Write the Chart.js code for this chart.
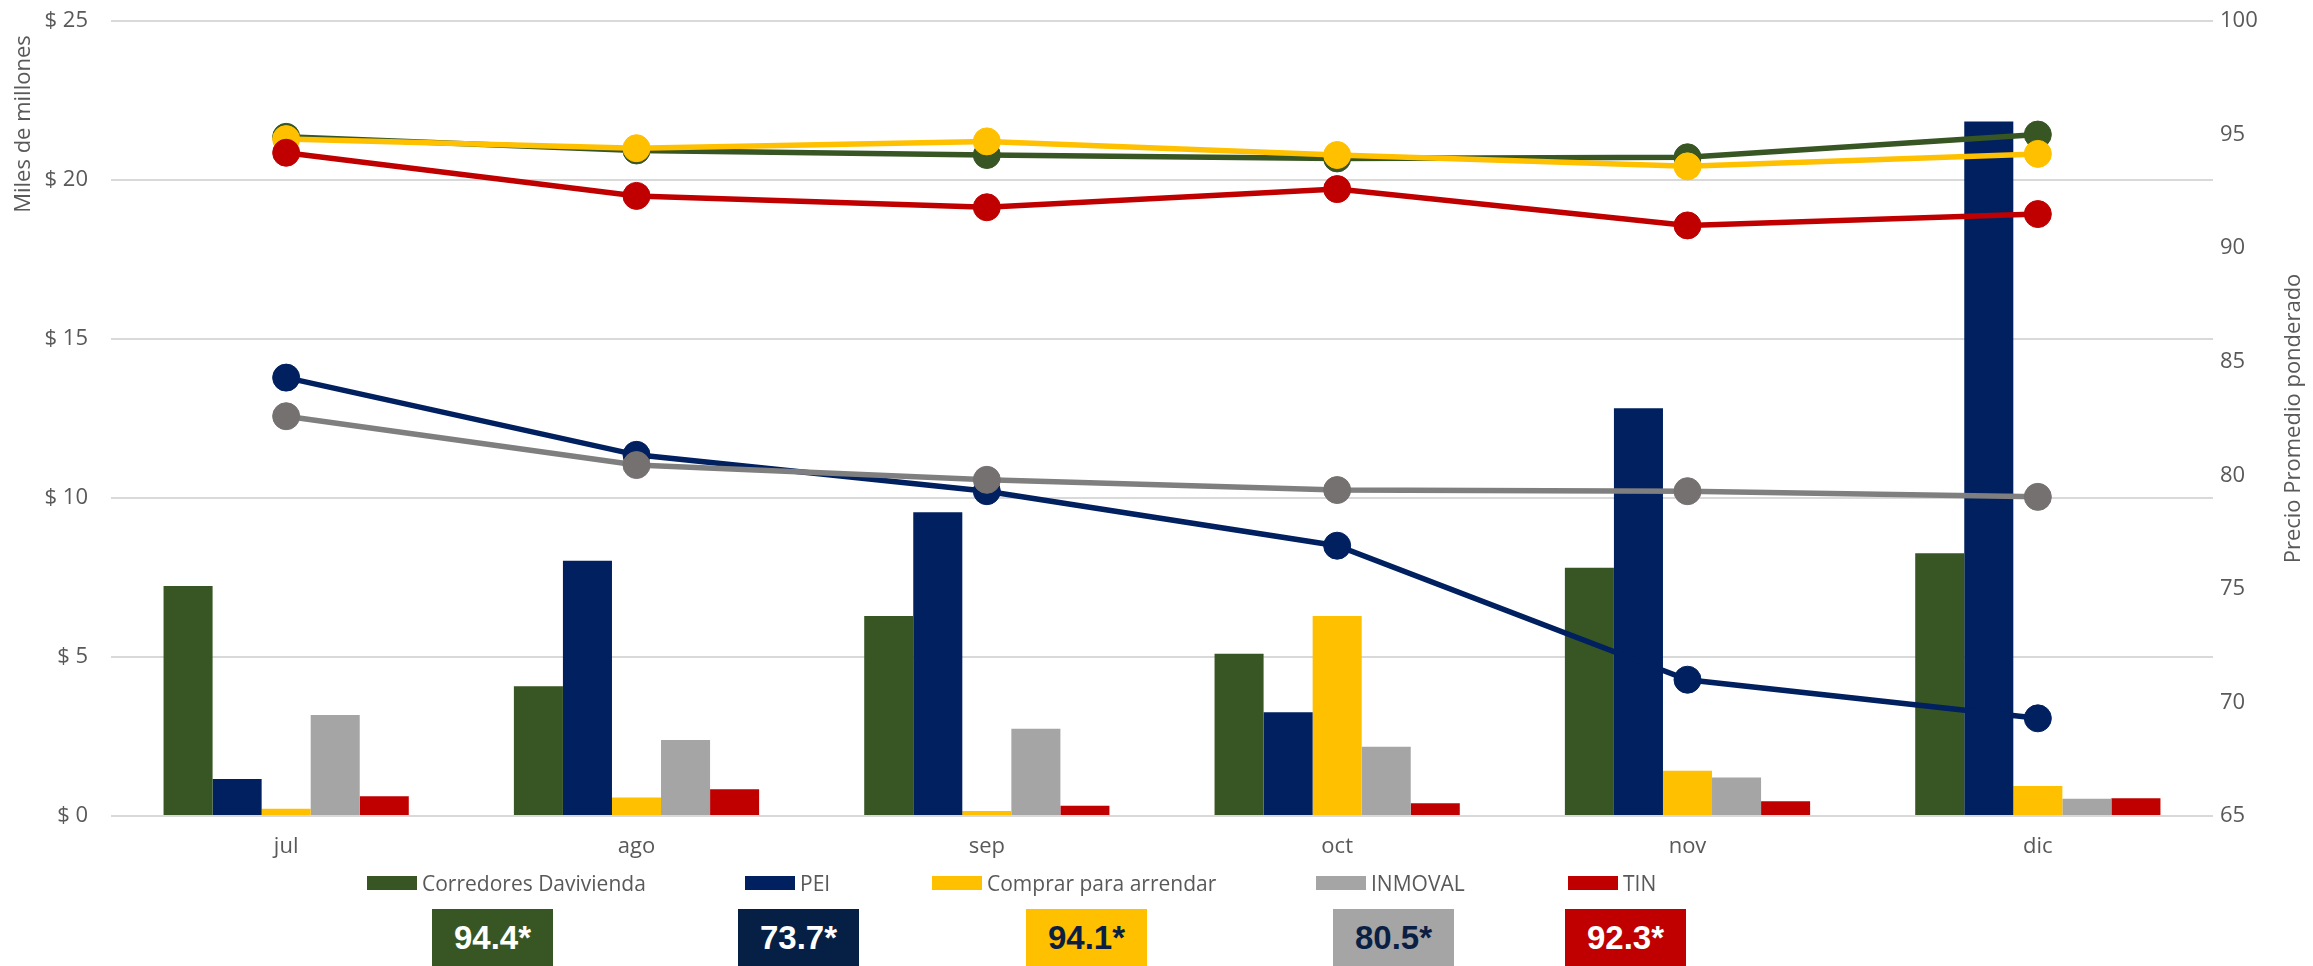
<!DOCTYPE html>
<html lang="es">
  <head>
    <meta charset="UTF-8" />
    <script src="https://cdn.jsdelivr.net/npm/chart.js"></script>
    <style>
      body { margin: 0; background: #fff; overflow: hidden; }
      #wrap { position: relative; width: 2313px; height: 966px; overflow: hidden; }
      #legend .item { position: absolute; top: 871px; height: 24px; display: flex; align-items: center;
        font-family: "Open Sans", sans-serif; font-size: 21px; color: #595959; white-space: nowrap; }
      #legend .swatch { width: 50px; height: 14px; margin-right: 5px; }
      .promedio { position: absolute; top: 909px; width: 121px; height: 70px;
        font-family: "Liberation Sans", Arial, sans-serif; font-weight: bold; font-size: 33px;
        text-align: center; line-height: 57px; }
    </style>
  </head>
  <body>
    <div id="wrap">
      <canvas id="grafico" width="2313" height="966"></canvas>
      <div id="legend"></div>
      <div id="promedios"></div>
    </div>

    <script>
      // Datos
      const meses = ["jul", "ago", "sep", "oct", "nov", "dic"];

      // Volumen (miles de millones)
      const volCorredores = [7.23, 4.08, 6.29, 5.1, 7.81, 8.26];
      const volPEI = [1.16, 8.03, 9.55, 3.26, 12.82, 21.84];
      const volComprar = [0.23, 0.58, 0.16, 6.29, 1.42, 0.94];
      const volInmoval = [3.18, 2.39, 2.74, 2.18, 1.21, 0.54];
      const volTIN = [0.62, 0.84, 0.32, 0.4, 0.46, 0.56];

      // Precio promedio ponderado
      const precioCorredores = [94.9, 94.3, 94.1, 93.95, 94.0, 95.0];
      const precioPEI = [84.3, 80.9, 79.3, 76.9, 71.0, 69.3];
      const precioComprar = [94.8, 94.4, 94.7, 94.1, 93.6, 94.15];
      const precioInmoval = [82.6, 80.45, 79.8, 79.35, 79.3, 79.05];
      const precioTIN = [94.2, 92.3, 91.8, 92.6, 91.0, 91.5];

      const nombres = ["Corredores Davivienda", "PEI", "Comprar para arrendar", "INMOVAL", "TIN"];
      const promedios = ["94.4*", "73.7*", "94.1*", "80.5*", "92.3*"];

      const tituloIzq = "Miles de millones";
      const tituloDer = "Precio Promedio ponderado";

      // Estilos
      const colBarras = ["#375623", "#002060", "#FFC000", "#A5A5A5", "#C00000"];
      const colLineas = ["#375623", "#002060", "#FFC000", "#7F7F7F", "#C00000"];
      const colPuntos = ["#375623", "#002060", "#FFC000", "#767171", "#C00000"];
      const cajaFondo = ["#375623", "#061F44", "#FFC000", "#A5A5A5", "#C00000"];
      const cajaTexto = ["#ffffff", "#ffffff", "#0B1F45", "#0B1F45", "#ffffff"];
      const cajaLeft = [432, 738, 1026, 1333, 1565];
      const legendLeft = [367, 745, 932, 1316, 1568];

      const volumenes = [volCorredores, volPEI, volComprar, volInmoval, volTIN];
      const precios = [precioCorredores, precioPEI, precioComprar, precioInmoval, precioTIN];

      const fuente = { family: "'Open Sans', sans-serif", size: 22 };
      const gris = "#595959";

      const barras = volumenes.map((d, i) => ({
        type: "bar",
        label: nombres[i],
        data: d,
        backgroundColor: colBarras[i],
        yAxisID: "y",
        order: 10,
        barPercentage: 1,
        categoryPercentage: 0.7,
      }));

      // orden: el rojo queda encima
      const lineas = precios.map((d, i) => ({
        type: "line",
        label: nombres[i] + " (precio)",
        data: d,
        borderColor: colLineas[i],
        backgroundColor: colPuntos[i],
        pointBackgroundColor: colPuntos[i],
        pointBorderColor: colPuntos[i],
        borderWidth: 5.5,
        pointRadius: 13.5,
        pointHoverRadius: 13.5,
        pointBorderWidth: 1,
        tension: 0,
        yAxisID: "y1",
        order: 5 - i,
      }));

      // titulos de ejes rotados
      const titulosEjes = {
        id: "titulosEjes",
        afterDraw(chart) {
          const ctx = chart.ctx;
          ctx.save();
          ctx.fillStyle = gris;
          ctx.font = "22px 'Open Sans', sans-serif";
          ctx.textAlign = "center";
          ctx.textBaseline = "middle";
          ctx.translate(24, 124);
          ctx.rotate(-Math.PI / 2);
          ctx.fillText(tituloIzq, 0, 0);
          ctx.restore();

          const a = chart.chartArea;
          ctx.save();
          ctx.fillStyle = gris;
          ctx.font = "22px 'Open Sans', sans-serif";
          ctx.textAlign = "center";
          ctx.textBaseline = "middle";
          ctx.translate(2294, (a.top + a.bottom) / 2);
          ctx.rotate(-Math.PI / 2);
          ctx.fillText(tituloDer, 0, 0);
          ctx.restore();
        },
      };

      const ctx = document.getElementById("grafico").getContext("2d");
      const grafico = new Chart(ctx, {
        data: { labels: meses, datasets: [...barras, ...lineas] },
        options: {
          responsive: false,
          animation: false,
          layout: { autoPadding: false, padding: { top: 21, left: 0, right: 0, bottom: 0 } },
          plugins: { legend: { display: false }, tooltip: { enabled: false } },
          scales: {
            x: {
              grid: { display: false, drawTicks: false },
              border: { display: false },
              ticks: { color: gris, font: fuente, padding: 18 },
              afterFit: (s) => { s.height = 150; },
            },
            y: {
              position: "left",
              min: 0,
              max: 25,
              grid: { color: "#D9D9D9", lineWidth: 2, drawTicks: false },
              border: { display: false },
              ticks: { stepSize: 5, color: gris, font: fuente, padding: 23, callback: (v) => "$ " + v },
              afterFit: (s) => { s.width = 111; s.paddingTop = 0; },
            },
            y1: {
              position: "right",
              min: 65,
              max: 100,
              grid: { display: false, drawTicks: false },
              border: { display: false },
              ticks: { stepSize: 5, color: gris, font: fuente, padding: 7 },
              afterFit: (s) => { s.width = 100; s.paddingTop = 0; },
            },
          },
        },
        plugins: [titulosEjes],
      });

      // Leyenda (solo barras)
      const legend = document.getElementById("legend");
      grafico.data.datasets
        .filter((ds) => ds.type === "bar")
        .forEach((ds, i) => {
          const item = document.createElement("div");
          item.className = "item";
          item.style.left = legendLeft[i] + "px";
          const sw = document.createElement("span");
          sw.className = "swatch";
          sw.style.background = ds.backgroundColor;
          item.appendChild(sw);
          item.appendChild(document.createTextNode(ds.label));
          legend.appendChild(item);
        });

      // Cajas de promedio
      const cont = document.getElementById("promedios");
      promedios.forEach((t, i) => {
        const c = document.createElement("div");
        c.className = "promedio";
        c.style.left = cajaLeft[i] + "px";
        c.style.background = cajaFondo[i];
        c.style.color = cajaTexto[i];
        c.textContent = t;
        cont.appendChild(c);
      });
    </script>
  </body>
</html>
